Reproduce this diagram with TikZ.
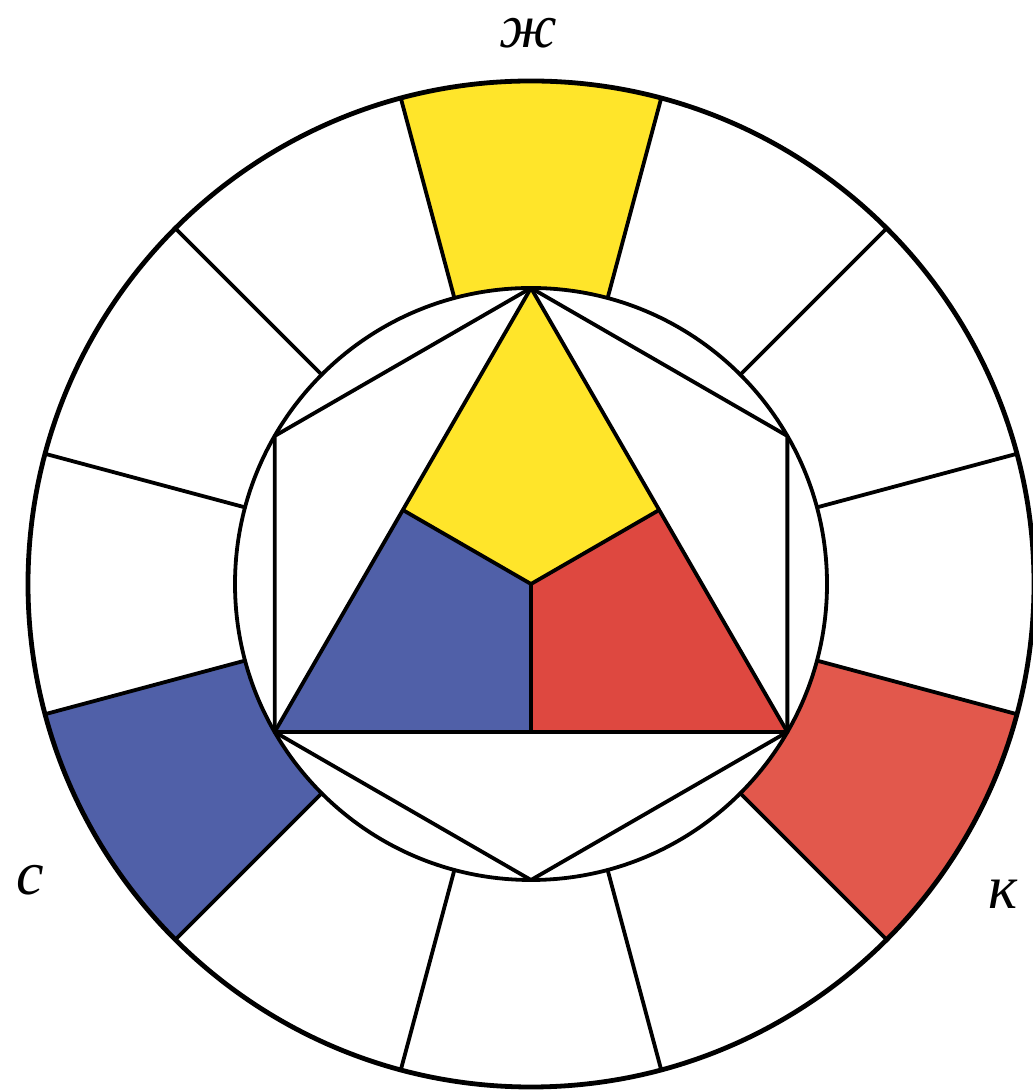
\documentclass[tikz,border=0pt]{standalone}
\usepackage{fontspec}
\usetikzlibrary{calc}
\newfontfamily\hand{Liberation Serif}
\definecolor{wy}{RGB}{255,229,42}
\definecolor{wb}{RGB}{80,96,168}
\definecolor{wr}{RGB}{222,72,64}
\definecolor{wro}{RGB}{226,88,76}
\begin{document}
\begin{tikzpicture}[x=0.5pt,y=0.5pt,line join=round,line cap=round,
  ink/.style={draw=black,line width=1.9pt},
  rim/.style={draw=black,line width=2.4pt},
  lbl/.style={font=\hand\itshape\fontsize{31}{33}\selectfont,inner sep=0pt}]
\useasboundingbox[fill=white] (0,0) rectangle (1032,1090);
\begin{scope}[shift={(531,506)}]
  \coordinate (O) at (0,0);
  % outer coloured sectors
  \fill[wy] (75:296) arc[start angle=75,end angle=105,radius=296] -- (105:503) arc[start angle=105,end angle=75,radius=503] -- cycle;
  \fill[wro] (-45:296) arc[start angle=-45,end angle=-15,radius=296] -- (-15:503) arc[start angle=-15,end angle=-45,radius=503] -- cycle;
  \fill[wb] (195:296) arc[start angle=195,end angle=225,radius=296] -- (225:503) arc[start angle=225,end angle=195,radius=503] -- cycle;
  % ring
  \draw[rim] (O) circle[radius=503];
  \draw[ink] (O) circle[radius=296];
  \foreach \a in {15,45,...,345} \draw[ink] (\a:296) -- (\a:503);
  % hexagon vertices
  \coordinate (T) at (90:296);
  \coordinate (UR) at (30:296);
  \coordinate (LR) at (-30:296);
  \coordinate (B) at (-90:296);
  \coordinate (LL) at (210:296);
  \coordinate (UL) at (150:296);
  \coordinate (ML) at ($(T)!0.5!(LL)$);
  \coordinate (MR) at ($(T)!0.5!(LR)$);
  \coordinate (MB) at ($(LL)!0.5!(LR)$);
  % inner triangle fills
  \fill[wy] (T) -- (MR) -- (O) -- (ML) -- cycle;
  \fill[wr] (MR) -- (LR) -- (MB) -- (O) -- cycle;
  \fill[wb] (ML) -- (O) -- (MB) -- (LL) -- cycle;
  % lines
  \draw[ink] (T) -- (UR) -- (LR) -- (B) -- (LL) -- (UL) -- cycle;
  \draw[ink] (T) -- (LR) -- (LL) -- cycle;
  \draw[ink] (ML) -- (O) -- (MR);
  \draw[ink] (O) -- (MB);
\end{scope}
\node[lbl] (zh) at (528,1057) {ж};
\node[lbl] (s) at (30,210) {с};
\node[lbl] (k) at (1003,196) {к};
\end{tikzpicture}
\end{document}
